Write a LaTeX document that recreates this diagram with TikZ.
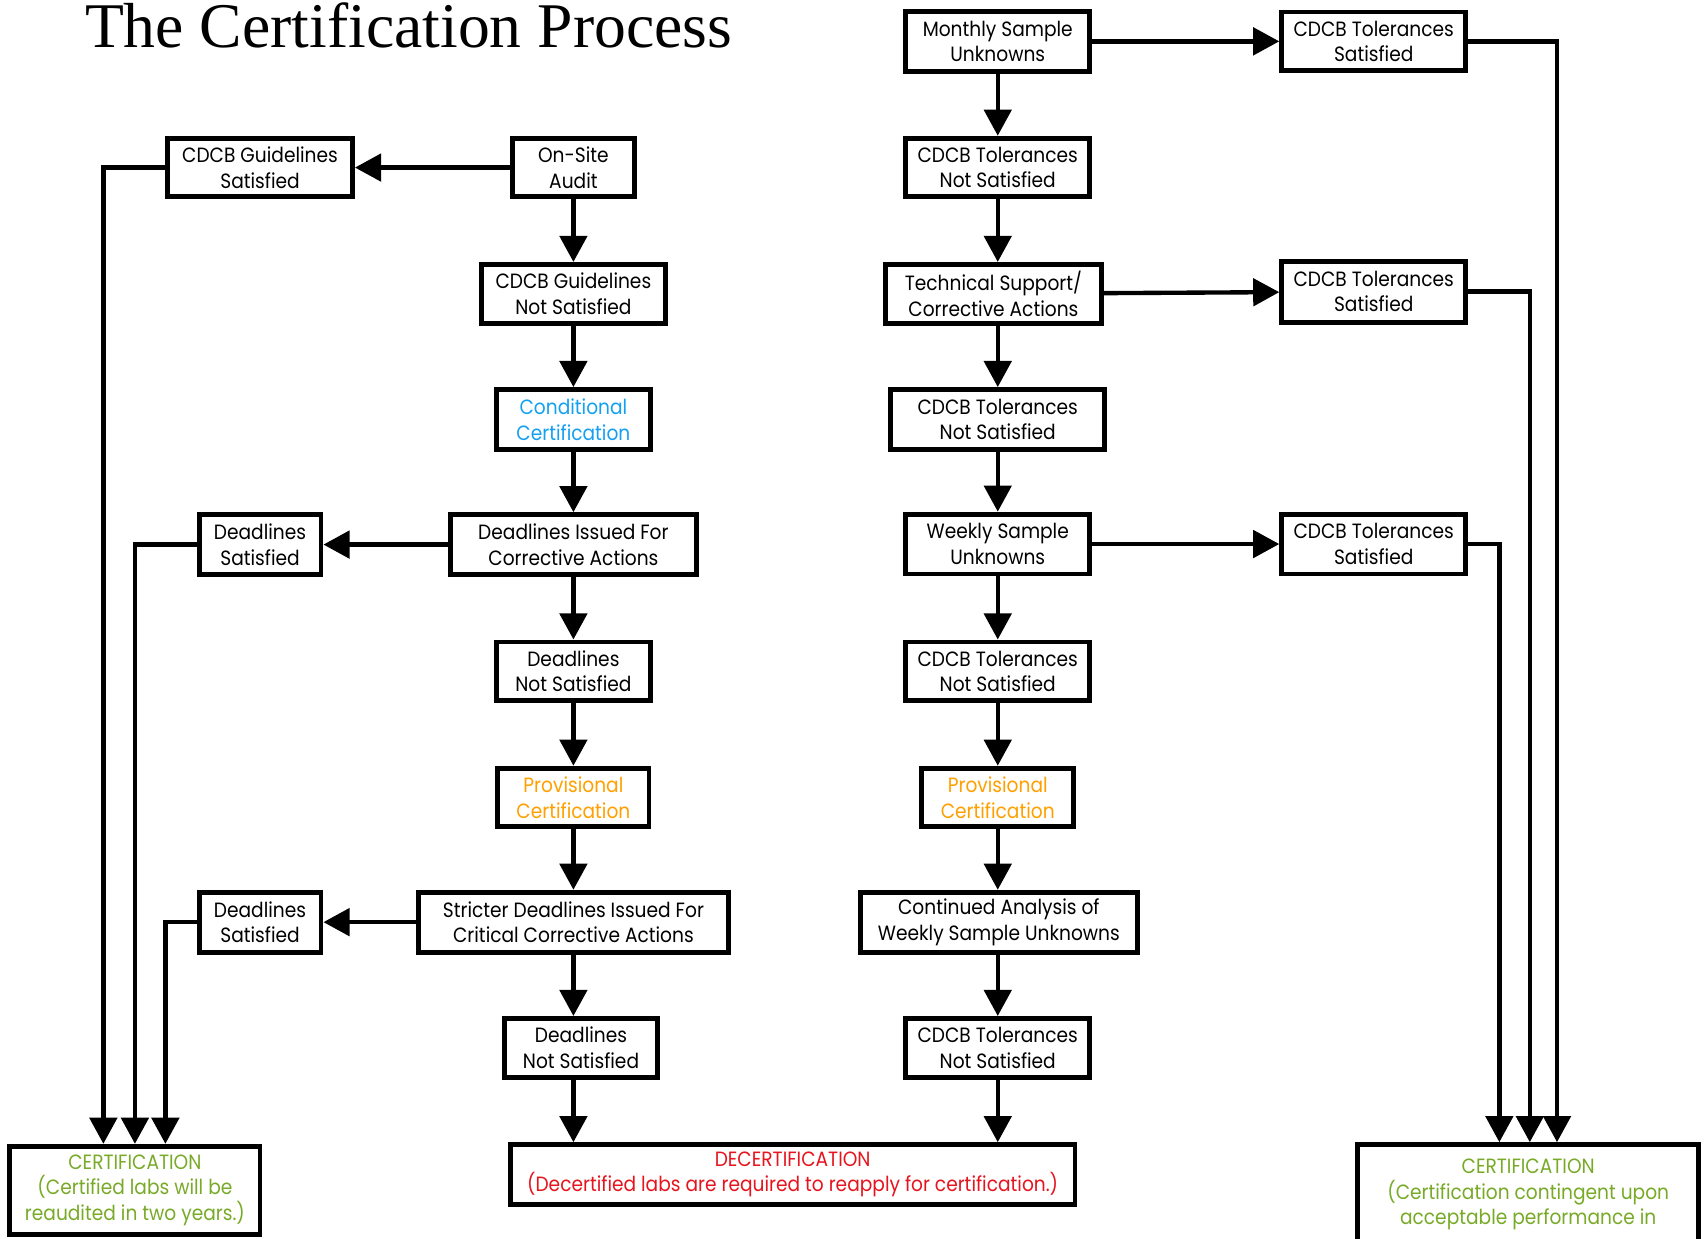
\documentclass[tikz,border=0pt]{standalone}
\usepackage{fontspec}
\setmainfont{Poppins}[FakeStretch=0.9]
\newfontfamily\titlefont{Liberation Serif}
\usepackage{tikz}
\usetikzlibrary{arrows.meta}
\definecolor{condblue}{RGB}{20,160,240}
\definecolor{provorange}{RGB}{255,160,0}
\definecolor{certgreen}{RGB}{120,170,40}
\definecolor{decertred}{RGB}{230,20,30}
\tikzset{>={Triangle[width=25pt,length=24pt]}}
\tikzset{box/.style={draw,line width=4.5pt,align=center,inner sep=0pt,font=\fontsize{19}{23.5}\selectfont}}
\tikzset{flow/.style={->,line width=4pt}}

\begin{document}
\begin{tikzpicture}[x=1pt,y=-1pt]
                    \useasboundingbox (0,0) rectangle (1567,1138);
                    \node[anchor=base west,inner sep=0pt,font=\titlefont\fontsize{58.5}{58.5}\selectfont] (title) at (78,44) {The Certification Process};

                    \node[box,minimum width=170,minimum height=54] (gsat) at (239,154) {CDCB Guidelines\\Satisfied};
                    \node[box,minimum width=112,minimum height=54] (audit) at (527,154) {On-Site\\Audit};
                    \node[box,minimum width=169,minimum height=54] (gnot) at (527,270) {CDCB Guidelines\\Not Satisfied};
                    \node[box,minimum width=141,minimum height=55,text=condblue] (cond) at (527,385.5) {Conditional\\Certification};
                    \node[box,minimum width=226,minimum height=55] (dissue) at (527,500.5) {Deadlines Issued For\\Corrective Actions};
                    \node[box,minimum width=112,minimum height=55] (dsatA) at (239,500.5) {Deadlines\\Satisfied};
                    \node[box,minimum width=141,minimum height=54] (dnotA) at (527,617) {Deadlines\\Not Satisfied};
                    \node[box,minimum width=139,minimum height=54,text=provorange] (provA) at (527,733) {Provisional\\Certification};
                    \node[box,minimum width=285,minimum height=55] (strict) at (527,847.5) {Stricter Deadlines Issued For\\Critical Corrective Actions};
                    \node[box,minimum width=112,minimum height=55] (dsatB) at (239,847.5) {Deadlines\\Satisfied};
                    \node[box,minimum width=141,minimum height=54] (dnotB) at (534,963) {Deadlines\\Not Satisfied};
                    \node[box,minimum width=230,minimum height=81,text=certgreen] (certA) at (124,1094) {CERTIFICATION\\(Certified labs will be\\reaudited in two years.)};
                    \node[box,minimum width=519,minimum height=55,text=decertred] (decert) at (728.5,1079.5) {DECERTIFICATION\\(Decertified labs are required to reapply for certification.)};

                    \node[box,minimum width=169,minimum height=55] (msu) at (917,38) {Monthly Sample\\Unknowns};
                    \node[box,minimum width=169,minimum height=54] (tnotA) at (917,154) {CDCB Tolerances\\Not Satisfied};
                    \node[box,minimum width=198,minimum height=54] (tech) at (913,270) {Technical Support/\\Corrective Actions};
                    \node[box,minimum width=197,minimum height=55] (tnotB) at (917,385.5) {CDCB Tolerances\\Not Satisfied};
                    \node[box,minimum width=169,minimum height=55] (wsu) at (917,500) {Weekly Sample\\Unknowns};
                    \node[box,minimum width=169,minimum height=54] (tnotC) at (917,617) {CDCB Tolerances\\Not Satisfied};
                    \node[box,minimum width=140,minimum height=54,text=provorange] (provB) at (917,733) {Provisional\\Certification};
                    \node[box,minimum width=255,minimum height=55] (contan) at (918,847.5) {Continued Analysis of\\Weekly Sample Unknowns};
                    \node[box,minimum width=169,minimum height=54] (tnotD) at (917,963) {CDCB Tolerances\\Not Satisfied};

                    \node[box,minimum width=169,minimum height=54] (tsatA) at (1262.5,38) {CDCB Tolerances\\Satisfied};
                    \node[box,minimum width=169,minimum height=56] (tsatB) at (1262.5,268) {CDCB Tolerances\\Satisfied};
                    \node[box,minimum width=169,minimum height=55] (tsatC) at (1262.5,500) {CDCB Tolerances\\Satisfied};
                    \node[box,minimum width=313,minimum height=92,text=certgreen] (certB) at (1404.5,1098) {CERTIFICATION\\(Certification contingent upon\\acceptable performance in};

                    \draw[flow] (audit) -- (gsat);
                    \draw[flow] (audit) -- (gnot);
                    \draw[flow] (gnot) -- (cond);
                    \draw[flow] (cond) -- (dissue);
                    \draw[flow] (dissue) -- (dsatA);
                    \draw[flow] (dissue) -- (dnotA);
                    \draw[flow] (dnotA) -- (provA);
                    \draw[flow] (provA) -- (strict);
                    \draw[flow] (strict) -- (dsatB);
                    \draw[flow] (strict.south) -- (strict.south |- dnotB.north);
                    \draw[flow] (dnotB.south -| strict.south) -- (decert.north -| strict.south);
                    \draw[flow] (gsat.west) -| ([xshift=-29pt]certA.north);
                    \draw[flow] (dsatA.west) -| (certA.north);
                    \draw[flow] (dsatB.west) -| ([xshift=28pt]certA.north);

                    \draw[flow] (msu) -- (tsatA);
                    \draw[flow] (msu) -- (tnotA);
                    \draw[flow] (tnotA.south) -- (tnotA.south |- tech.north);
                    \draw[flow] (tech) -- (tsatB);
                    \draw[flow] (tech.south -| tnotB.north) -- (tnotB.north);
                    \draw[flow] (tnotB) -- (wsu);
                    \draw[flow] (wsu) -- (tsatC);
                    \draw[flow] (wsu) -- (tnotC);
                    \draw[flow] (tnotC) -- (provB);
                    \draw[flow] (provB.south) -- (provB.south |- contan.north);
                    \draw[flow] (contan.south -| tnotD.north) -- (tnotD.north);
                    \draw[flow] (tnotD.south) -- (decert.north -| tnotD.south);
                    \draw[flow] (tsatA.east) -| ([xshift=26.5pt]certB.north);
                    \draw[flow] (tsatB.east) -| ([xshift=1.5pt]certB.north);
                    \draw[flow] (tsatC.east) -| ([xshift=-26.5pt]certB.north);
                \end{tikzpicture}
\end{document}
